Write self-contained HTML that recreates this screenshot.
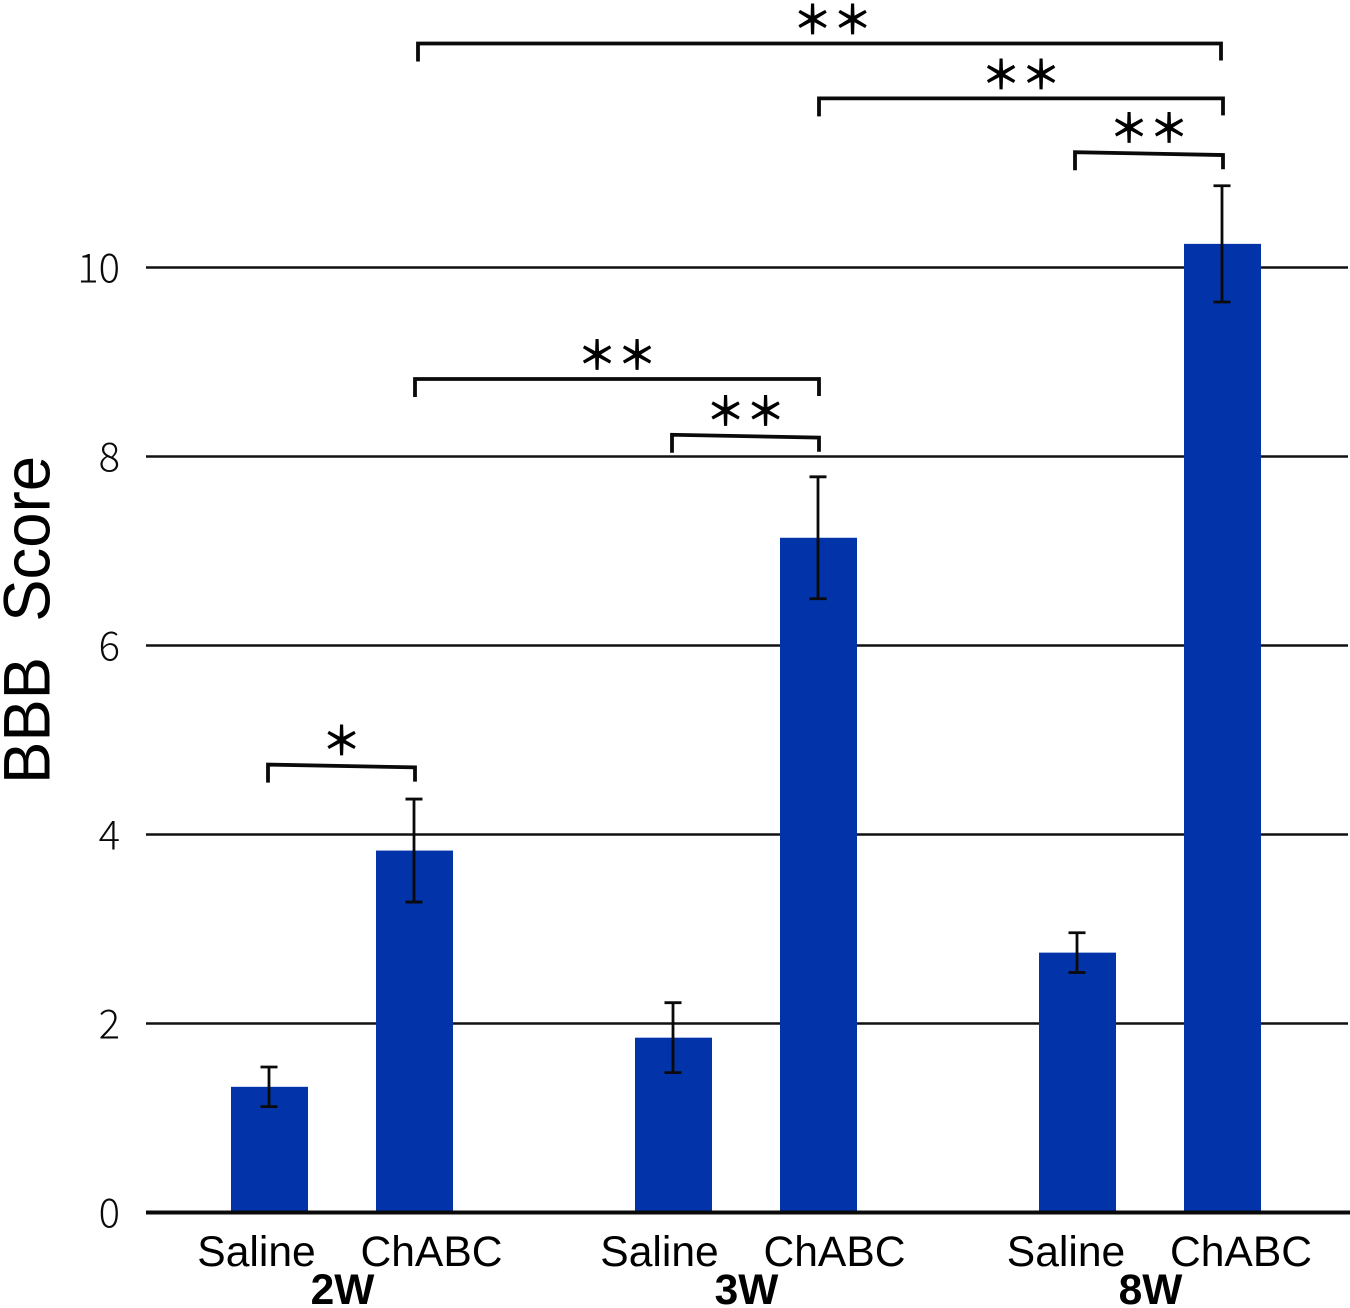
<!DOCTYPE html>
<html lang="en">
<head>
<meta charset="utf-8">
<title>BBB Score</title>
<style>
html,body{margin:0;padding:0;background:#fff;width:1350px;height:1308px;overflow:hidden}
svg{display:block}
text{fill:#000}
.tick{font-family:"Noto Sans CJK JP","Liberation Sans",sans-serif;font-weight:300;font-size:40px;fill:#0a0a0a}
.cat{font-family:"Liberation Sans",sans-serif;font-size:42.6px}
.grp{font-family:"Liberation Sans",sans-serif;font-size:42.5px;font-weight:bold}
.star{font-family:"Noto Sans CJK JP",sans-serif;font-size:40px;font-weight:700}
</style>
</head>
<body>
<svg id="chart" xmlns="http://www.w3.org/2000/svg" width="1350" height="1308" viewBox="0 0 1350 1308">
  <text transform="translate(49.5,784) rotate(-90)" font-family="Liberation Sans, sans-serif" font-size="66" textLength="328" lengthAdjust="spacingAndGlyphs" xml:space="preserve">BBB  Score</text>
</svg>
<script>
const groups = ['2W', '3W', '8W'];
const treatments = ['Saline', 'ChABC'];
const yTicks = [0, 2, 4, 6, 8, 10];
const salineValues = [1.33, 1.85, 2.75];
const chabcValues = [3.83, 7.14, 10.25];
const salineErrors = [0.21, 0.37, 0.21];
const chabcErrors = [0.545, 0.645, 0.615];
const bracketFrom = [1, 3, 4, 1, 2, 0];
const bracketTo = [5, 5, 5, 3, 3, 1];
const bracketLevels = [12.37, 11.79, 11.22, 8.82, 8.23, 4.74];
const bracketTilts = [0, 0, 0.03, 0, 0.03, 0.03];
const bracketLabels = ['\uFF0A\uFF0A', '\uFF0A\uFF0A', '\uFF0A\uFF0A', '\uFF0A\uFF0A', '\uFF0A\uFF0A', '\uFF0A'];

const NS = 'http://www.w3.org/2000/svg';
const svg = document.getElementById('chart');
const y = v => 1212.5 - v * 94.5;
const groupX = g => 342 + g * 404;
const barX = (g, t) => groupX(g) + (t === 0 ? -72.5 : 72.5);
const barXByIndex = i => barX(Math.floor(i / 2), i % 2);
const labelNudge = g => (g === 1 ? -1 : g === 2 ? 1.5 : 0);
const startNudge = i => [3, 0, -3, 0, -2, -2][i];
const endNudge = i => (i === 0 ? -2 : 0);
const starNudge = i => (i === 0 ? 13 : 0);

function make(tag, attrs, text) {
  const el = document.createElementNS(NS, tag);
  for (const k in attrs) el.setAttribute(k, attrs[k]);
  if (text !== undefined) el.textContent = text;
  svg.appendChild(el);
  return el;
}

yTicks.forEach(t => {
  if (t !== 0) {
    const grid = make('line', {x1: 146, x2: 1348, y1: y(t), y2: y(t), stroke: '#111', 'stroke-width': 2.4});
    
    
  }
  const label = make('text', {x: 120, y: y(t) + 15, 'text-anchor': 'end', class: 'tick'}, String(t));
  
  
});

const allValues = [salineValues, chabcValues];
const allErrors = [salineErrors, chabcErrors];
groups.forEach((g, gi) => {
  treatments.forEach((tr, ti) => {
    const v = allValues[ti][gi];
    const e = allErrors[ti][gi];
    const cx = barX(gi, ti);
    const bar = make('rect', {x: cx - 38.5, y: y(v), width: 77, height: y(0) - y(v), fill: '#0233a8'});
    
    

    const ex = cx - 0.5;
    const stem = make('line', {x1: ex, x2: ex, y1: y(v + e), y2: y(v - e), stroke: '#0a0a0a', 'stroke-width': 2.8});
    
    
    const capTop = make('line', {x1: ex - 8.5, x2: ex + 8.5, y1: y(v + e), y2: y(v + e), stroke: '#0a0a0a', 'stroke-width': 2.8});
    
    
    const capBottom = make('line', {x1: ex - 8.5, x2: ex + 8.5, y1: y(v - e), y2: y(v - e), stroke: '#0a0a0a', 'stroke-width': 2.8});
    
    

    const catLabel = make('text', {x: (ti === 0 ? cx - 13 : cx + 17) + labelNudge(gi), y: 1266, 'text-anchor': 'middle', class: 'cat'}, tr);
    
    
  });
  const groupLabel = make('text', {x: groupX(gi) + 0.5, y: 1304, 'text-anchor': 'middle', class: 'grp'}, g);
  
  
});

const axis = make('line', {x1: 146, x2: 1350, y1: y(0), y2: y(0), stroke: '#0a0a0a', 'stroke-width': 4});



bracketLevels.forEach((lvl, i) => {
  const x1 = barXByIndex(bracketFrom[i]) + 0.5 + startNudge(i);
  const x2 = barXByIndex(bracketTo[i]) + 0.5 + endNudge(i);
  const by = y(lvl);
  const tilt = bracketTilts[i] * 94.5;
  const br = make('path', {d: 'M' + x1 + ' ' + (by + 18) + 'V' + by + 'L' + x2 + ' ' + (by + tilt) + 'V' + (by + 17), fill: 'none', stroke: '#0a0a0a', 'stroke-width': 3.8});
  
  
  const stars = make('text', {x: (x1 + x2) / 2 + starNudge(i), y: by - 9.5, 'text-anchor': 'middle', class: 'star'}, bracketLabels[i]);
  
  
});
</script>
</body>
</html>
